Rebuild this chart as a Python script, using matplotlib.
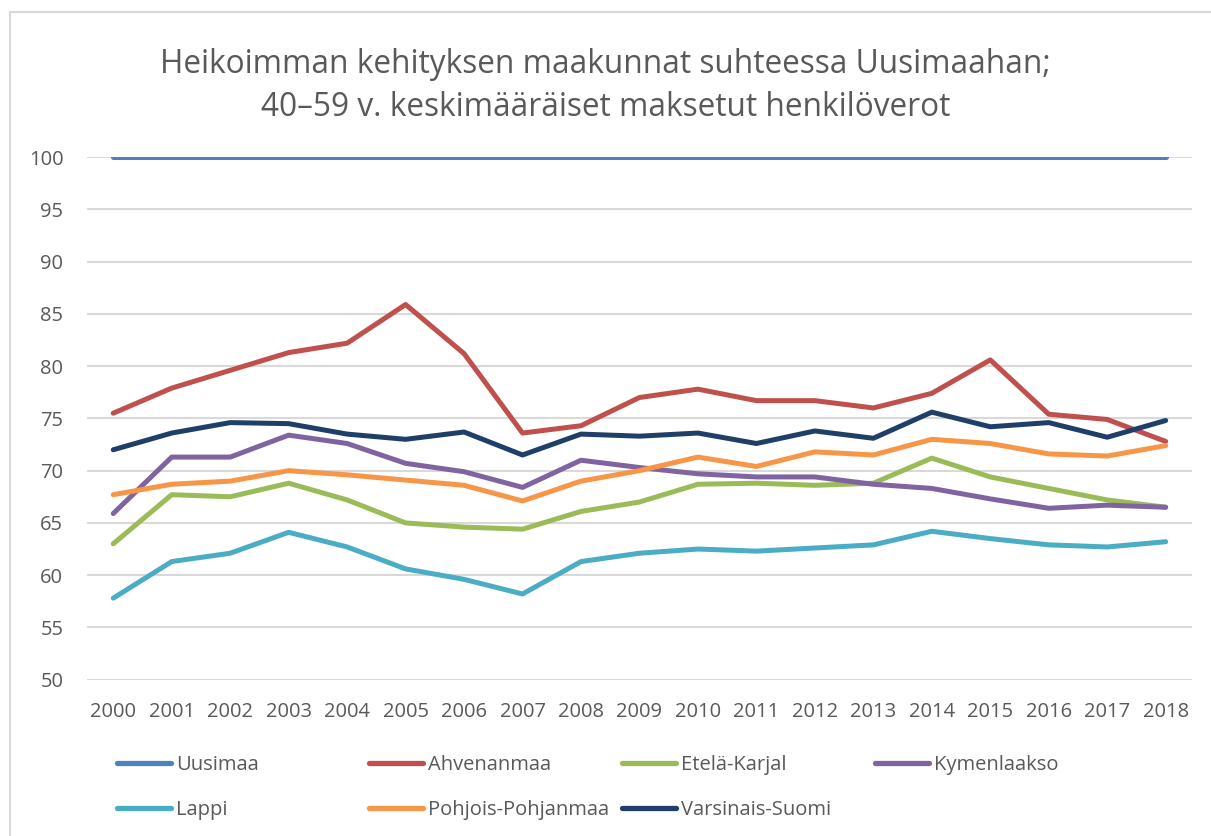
import matplotlib.pyplot as plt
from matplotlib.lines import Line2D
from matplotlib.patches import Rectangle

years = list(range(2000, 2019))

uusimaa = [100] * 19
ahvenanmaa = [75.5, 77.9, 79.6, 81.3, 82.2, 85.9, 81.2, 73.6, 74.3, 77.0,
              77.8, 76.7, 76.7, 76.0, 77.4, 80.6, 75.4, 74.9, 72.8]
etela_karjal = [63.0, 67.7, 67.5, 68.8, 67.2, 65.0, 64.6, 64.4, 66.1, 67.0,
                68.7, 68.8, 68.6, 68.8, 71.2, 69.4, 68.3, 67.2, 66.5]
kymenlaakso = [65.9, 71.3, 71.3, 73.4, 72.6, 70.7, 69.9, 68.4, 71.0, 70.3,
               69.7, 69.4, 69.4, 68.7, 68.3, 67.3, 66.4, 66.7, 66.5]
lappi = [57.8, 61.3, 62.1, 64.1, 62.7, 60.6, 59.6, 58.2, 61.3, 62.1,
         62.5, 62.3, 62.6, 62.9, 64.2, 63.5, 62.9, 62.7, 63.2]
pohjois_pohjanmaa = [67.7, 68.7, 69.0, 70.0, 69.6, 69.1, 68.6, 67.1, 69.0, 70.0,
                     71.3, 70.4, 71.8, 71.5, 73.0, 72.6, 71.6, 71.4, 72.4]
varsinais_suomi = [72.0, 73.6, 74.6, 74.5, 73.5, 73.0, 73.7, 71.5, 73.5, 73.3,
                   73.6, 72.6, 73.8, 73.1, 75.6, 74.2, 74.6, 73.2, 74.8]

series = [
    ("Uusimaa", uusimaa, "#4F81BD"),
    ("Ahvenanmaa", ahvenanmaa, "#C0504D"),
    ("Etelä-Karjal", etela_karjal, "#9BBB59"),
    ("Kymenlaakso", kymenlaakso, "#8064A2"),
    ("Lappi", lappi, "#4BACC6"),
    ("Pohjois-Pohjanmaa", pohjois_pohjanmaa, "#F79646"),
    ("Varsinais-Suomi", varsinais_suomi, "#1F3F68"),
]

txt = "#595959"
plt.rcParams["font.family"] = ["Open Sans", "DejaVu Sans"]

fig = plt.figure(figsize=(12.11, 8.36), dpi=100)
ax = fig.add_axes([0.0718, 0.187, 0.9125, 0.625])

for name, vals, col in series:
    ax.plot(years, vals, color=col, lw=3.6, solid_capstyle="round", zorder=3)

ax.set_xlim(1999.55, 2018.45)
ax.set_ylim(50, 100)
ax.set_yticks(range(50, 101, 5))
ax.set_xticks(years)
ax.grid(axis="y", color="#D9D9D9", lw=1.5, zorder=0)
for s in ax.spines.values():
    s.set_visible(False)
ax.tick_params(length=0, colors=txt, labelsize=14.5)
ax.tick_params(axis="y", pad=17)
ax.tick_params(axis="x", pad=16)

fig.text(0.5, 0.897, "Heikoimman kehityksen maakunnat suhteessa Uusimaahan;\n"
         "40–59 v. keskimääräiset maksetut henkilöverot",
         ha="center", va="center", fontsize=22.8, color=txt, linespacing=1.42)

# legend entries placed like Excel's grid
cols_x = [0.0966, 0.3047, 0.5136, 0.7225]
rows_y = [0.085, 0.031]
slots = [(0, 0), (1, 0), (2, 0), (3, 0), (0, 1), (1, 1), (2, 1)]
for (name, vals, col), (ci, ri) in zip(series, slots):
    h = Line2D([], [], color=col, lw=3.8, solid_capstyle="round")
    fig.legend([h], [name], loc="center left", bbox_to_anchor=(cols_x[ci], rows_y[ri]),
               frameon=False, fontsize=14.5, labelcolor=txt, handlelength=2.7,
               handletextpad=0.25, borderpad=0, borderaxespad=0)

fig.patches.append(Rectangle((10 / 1211, -0.1), 1.2, 1.1 - 12 / 836, transform=fig.transFigure,
                             fill=False, ec="#D9D9D9", lw=1.5))

fig.savefig("out.png", dpi=100)
